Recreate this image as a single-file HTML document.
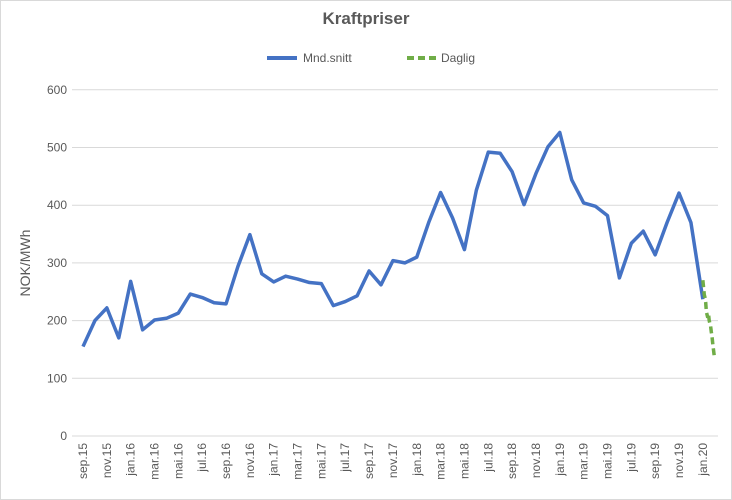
<!DOCTYPE html>
<html><head><meta charset="utf-8"><style>
body{margin:0;background:#fff;font-family:"Liberation Sans",sans-serif}
</style></head><body>
<svg id="c" width="732" height="500" style="display:block">
<rect x="0.5" y="0.5" width="731" height="499" fill="#fff" stroke="#d9d9d9"/>
<text x="366" y="24" text-anchor="middle" font-size="17" font-weight="bold" fill="#595959">Kraftpriser</text>
<g>
<line x1="267" y1="58" x2="297" y2="58" stroke="#4472c4" stroke-width="4"/>
<text x="303" y="62" font-size="12" fill="#595959">Mnd.snitt</text>
<line x1="407" y1="58" x2="437" y2="58" stroke="#70ad47" stroke-width="4" stroke-dasharray="7,4"/>
<text x="441" y="62" font-size="12" fill="#595959">Daglig</text>
</g>
<text transform="translate(30,263) rotate(-90)" text-anchor="middle" font-size="14" fill="#595959">NOK/MWh</text>
<g id="grid"></g><g id="xl"></g><g id="series"></g>
</svg>
<script>
const yTicks=[0,100,200,300,400,500,600];
const months=["sep.15","okt.15","nov.15","des.15","jan.16","feb.16","mar.16","apr.16","mai.16","jun.16","jul.16","aug.16","sep.16","okt.16","nov.16","des.16","jan.17","feb.17","mar.17","apr.17","mai.17","jun.17","jul.17","aug.17","sep.17","okt.17","nov.17","des.17","jan.18","feb.18","mar.18","apr.18","mai.18","jun.18","jul.18","aug.18","sep.18","okt.18","nov.18","des.18","jan.19","feb.19","mar.19","apr.19","mai.19","jun.19","jul.19","aug.19","sep.19","okt.19","nov.19","des.19","jan.20"];
const monthly=[155,200,222,170,268,184,201,204,213,246,240,231,229,294,349,281,267,277,272,266,264,226,233,243,286,262,304,300,310,370,422,378,323,426,492,490,458,401,455,501,526,444,404,398,382,274,334,355,314,370,421,370,237];
const dailyDay=[0,2,4,6,8,10,12,14,16,18,20,22,24,26,28,30,32];
const dailyVal=[270,258,245,240,232,215,210,205,212,200,195,190,180,172,160,150,140];
const ns="http://www.w3.org/2000/svg";
const X0=83,STEP=11.92,Y0=436,YS=0.577,XL=72,XR=718;
const xs=i=>X0+i*STEP, ys=v=>Y0-v*YS;
function mk(t,a,p){const e=document.createElementNS(ns,t);for(const k in a)e.setAttribute(k,a[k]);p.appendChild(e);return e;}
const g=document.getElementById('grid');
yTicks.forEach(v=>{
 const l=mk('line',{x1:XL,x2:XR,y1:ys(v),y2:ys(v),stroke:'#d9d9d9','stroke-width':1},g);
 
 
 const t=mk('text',{x:67,y:ys(v)+4,'text-anchor':'end','font-size':12,fill:'#595959'},g);
 t.textContent=v;
 
 
});
const xl=document.getElementById('xl');
months.forEach((m,i)=>{if(i%2)return;
 const t=mk('text',{transform:`translate(${xs(i)+4},443) rotate(-90)`,'text-anchor':'end','font-size':12,fill:'#595959'},xl);
 t.textContent=m;
 
 
});
const s=document.getElementById('series');
const p1=mk('polyline',{points:monthly.map((v,i)=>xs(i)+','+ys(v)).join(' '),fill:'none',stroke:'#4472c4','stroke-width':3.5,'stroke-linejoin':'round'},s);


const p2=mk('polyline',{points:dailyVal.map((v,i)=>xs(52+dailyDay[i]/31*0.92)+','+ys(v)).join(' '),fill:'none',stroke:'#70ad47','stroke-width':3.5,'stroke-dasharray':'7,4'},s);


</script>
</body></html>
